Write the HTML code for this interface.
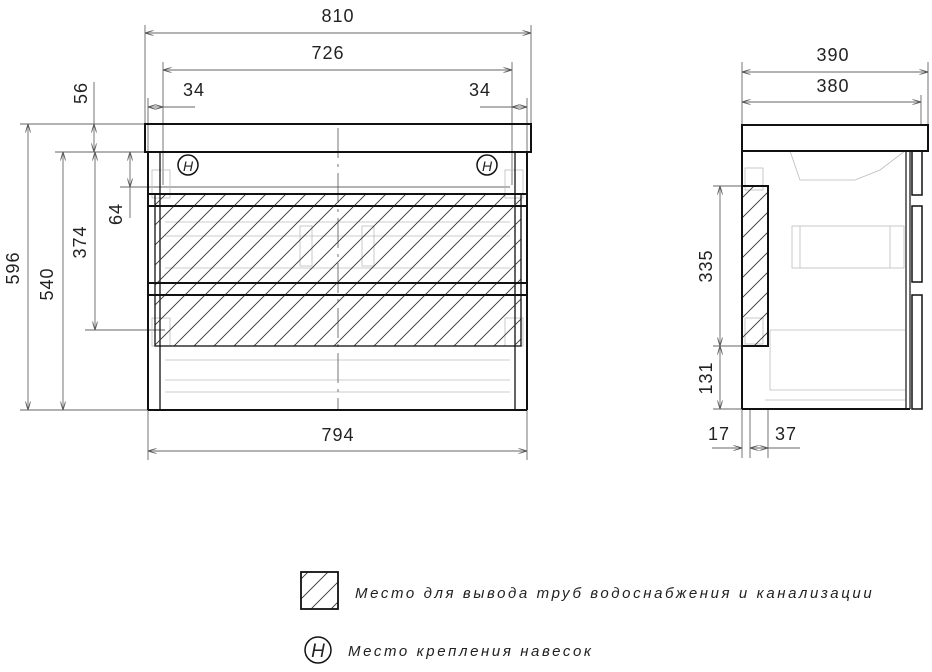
<!DOCTYPE html>
<html><head><meta charset="utf-8"><style>
html,body{margin:0;padding:0;background:#fff;}
svg{display:block;}
text{font-family:"Liberation Sans",sans-serif;fill:#222;}
.d{font-size:18px;letter-spacing:1px;}
.l{font-size:15px;font-style:italic;letter-spacing:2.6px;}
</style></head><body>
<svg width="932" height="672" viewBox="0 0 932 672" xmlns="http://www.w3.org/2000/svg">
<defs>
<pattern id="h" patternUnits="userSpaceOnUse" width="20" height="20">
<path d="M-5 25 L25 -5 M-15 15 L15 -15 M5 35 L35 5" stroke="#333" stroke-width="0.9"/>
</pattern>
<marker id="a" viewBox="0 0 10 6" refX="10" refY="3" markerWidth="10" markerHeight="6" orient="auto-start-reverse"><path d="M0 0 L10 3 L0 6" fill="none" stroke="#555" stroke-width="1"/></marker>
</defs>
<g stroke="#666" stroke-width="0.9" fill="none">
<!-- extension lines front -->
<line x1="145" y1="25" x2="145" y2="124"/><line x1="531" y1="25" x2="531" y2="124"/>
<line x1="163" y1="62" x2="163" y2="185"/><line x1="512" y1="62" x2="512" y2="185"/>
<line x1="148" y1="98" x2="148" y2="152"/><line x1="527" y1="98" x2="527" y2="152"/>
<line x1="148" y1="410" x2="148" y2="460"/><line x1="527" y1="410" x2="527" y2="460"/>
<line x1="20" y1="124" x2="145" y2="124"/><line x1="55" y1="152" x2="148" y2="152"/>
<line x1="20" y1="410" x2="148" y2="410"/><line x1="85" y1="330" x2="165" y2="330"/>
<line x1="120" y1="187" x2="510" y2="187"/>
<!-- dims -->
<line x1="145" y1="33" x2="531" y2="33" marker-start="url(#a)" marker-end="url(#a)"/>
<line x1="163" y1="70" x2="512" y2="70" marker-start="url(#a)" marker-end="url(#a)"/>
<line x1="148" y1="107" x2="163" y2="107" marker-start="url(#a)" marker-end="url(#a)"/>
<line x1="163" y1="107" x2="195" y2="107"/>
<line x1="512" y1="107" x2="527" y2="107" marker-start="url(#a)" marker-end="url(#a)"/>
<line x1="480" y1="107" x2="512" y2="107"/>
<line x1="94" y1="82" x2="94" y2="124"/>
<line x1="94" y1="124" x2="94" y2="152" marker-start="url(#a)" marker-end="url(#a)"/>
<line x1="28" y1="124" x2="28" y2="410" marker-start="url(#a)" marker-end="url(#a)"/>
<line x1="63" y1="152" x2="63" y2="410" marker-start="url(#a)" marker-end="url(#a)"/>
<line x1="95" y1="152" x2="95" y2="330" marker-start="url(#a)" marker-end="url(#a)"/>
<line x1="130" y1="152" x2="130" y2="187" marker-start="url(#a)" marker-end="url(#a)"/>
<line x1="130" y1="187" x2="130" y2="218"/>
<line x1="148" y1="451" x2="527" y2="451" marker-start="url(#a)" marker-end="url(#a)"/>
<!-- faint internals -->
<g stroke="#bbb" stroke-width="0.8">
<line x1="165" y1="360" x2="510" y2="360"/><line x1="165" y1="380" x2="510" y2="380"/><line x1="165" y1="392" x2="510" y2="392"/>
<line x1="165" y1="222" x2="510" y2="222"/><line x1="165" y1="236" x2="510" y2="236"/><line x1="165" y1="268" x2="510" y2="268"/>
<rect x="300" y="226" width="12" height="40"/><rect x="362" y="226" width="12" height="40"/>
<rect x="152" y="170" width="18" height="28"/><rect x="505" y="170" width="18" height="28"/>
<rect x="152" y="318" width="18" height="28"/><rect x="505" y="318" width="18" height="28"/>
</g>
<line x1="338" y1="128" x2="338" y2="410" stroke-dasharray="30 6 3 6"/>
</g>
<!-- front view body -->
<g stroke="#111" fill="none">
<rect x="145" y="124" width="386" height="28" stroke-width="2"/>
<line x1="148" y1="152" x2="148" y2="410" stroke-width="2"/>
<line x1="527" y1="152" x2="527" y2="410" stroke-width="2"/>
<line x1="148" y1="410" x2="527" y2="410" stroke-width="2"/>
<line x1="160" y1="152" x2="160" y2="410" stroke-width="1.3"/>
<line x1="515" y1="152" x2="515" y2="410" stroke-width="1.3"/>
<rect x="155" y="194" width="366" height="152" fill="url(#h)" stroke-width="1.3"/>
<line x1="148" y1="194" x2="527" y2="194" stroke-width="2"/>
<line x1="148" y1="206" x2="527" y2="206" stroke-width="2"/>
<line x1="148" y1="283" x2="527" y2="283" stroke-width="2"/>
<line x1="148" y1="295" x2="527" y2="295" stroke-width="2"/>
<circle cx="188" cy="165" r="10" stroke-width="1.5"/>
<circle cx="487" cy="165" r="10" stroke-width="1.5"/>
</g>
<text x="188" y="171" font-size="14" font-style="italic" text-anchor="middle">H</text>
<text x="487" y="171" font-size="14" font-style="italic" text-anchor="middle">H</text>
<!-- front labels -->
<text class="d" x="338" y="22" text-anchor="middle">810</text>
<text class="d" x="328" y="59" text-anchor="middle">726</text>
<text class="d" x="194" y="96" text-anchor="middle">34</text>
<text class="d" x="480" y="96" text-anchor="middle">34</text>
<text class="d" x="338" y="441" text-anchor="middle">794</text>
<text class="d" transform="translate(87,93) rotate(-90)" text-anchor="middle">56</text>
<text class="d" transform="translate(19,268) rotate(-90)" text-anchor="middle">596</text>
<text class="d" transform="translate(53,284) rotate(-90)" text-anchor="middle">540</text>
<text class="d" transform="translate(86,242) rotate(-90)" text-anchor="middle">374</text>
<text class="d" transform="translate(122,214) rotate(-90)" text-anchor="middle">64</text>
<!-- side view -->
<g stroke="#666" stroke-width="0.9" fill="none">
<line x1="742" y1="62" x2="742" y2="125"/><line x1="928" y1="62" x2="928" y2="125"/><line x1="921" y1="95" x2="921" y2="125"/>
<line x1="742" y1="72" x2="928" y2="72" marker-start="url(#a)" marker-end="url(#a)"/>
<line x1="742" y1="102" x2="921" y2="102" marker-start="url(#a)" marker-end="url(#a)"/>
<line x1="713" y1="186" x2="742" y2="186"/><line x1="713" y1="346" x2="742" y2="346"/><line x1="713" y1="409" x2="742" y2="409"/>
<line x1="720" y1="186" x2="720" y2="346" marker-start="url(#a)" marker-end="url(#a)"/>
<line x1="720" y1="346" x2="720" y2="409" marker-start="url(#a)" marker-end="url(#a)"/>
<line x1="742" y1="409" x2="742" y2="458"/><line x1="750" y1="409" x2="750" y2="458"/><line x1="768" y1="409" x2="768" y2="458"/>
<line x1="712" y1="448" x2="742" y2="448" marker-end="url(#a)"/>
<line x1="750" y1="448" x2="768" y2="448" marker-start="url(#a)" marker-end="url(#a)"/>
<line x1="768" y1="448" x2="800" y2="448"/>
<g stroke="#bbb" stroke-width="0.8">
<path d="M790 151 L800 180 L855 180 L880 170 L905 151"/>
<rect x="792" y="226" width="112" height="42"/><line x1="800" y1="226" x2="800" y2="268"/><line x1="890" y1="226" x2="890" y2="268"/>
<path d="M770 330 L905 330 M770 330 L770 390 L905 390 M765 400 L905 400"/>
<rect x="745" y="168" width="18" height="22"/><rect x="745" y="318" width="18" height="26"/>
</g>
</g>
<g stroke="#111" fill="none">
<rect x="742" y="125" width="186" height="26" stroke-width="2"/>
<line x1="742" y1="151" x2="742" y2="409" stroke-width="2"/>
<line x1="742" y1="409" x2="910" y2="409" stroke-width="2"/>
<line x1="906" y1="151" x2="906" y2="409" stroke-width="1.2"/>
<line x1="910" y1="151" x2="910" y2="409" stroke-width="1.2"/>
<rect x="912" y="151" width="10" height="44" stroke-width="1.5"/>
<rect x="912" y="206" width="10" height="76" stroke-width="1.5"/>
<rect x="912" y="295" width="10" height="114" stroke-width="1.5"/>
<rect x="742" y="186" width="26" height="160" fill="url(#h)" stroke-width="2"/>
</g>
<text class="d" x="833" y="61" text-anchor="middle">390</text>
<text class="d" x="833" y="92" text-anchor="middle">380</text>
<text class="d" transform="translate(712,266) rotate(-90)" text-anchor="middle">335</text>
<text class="d" transform="translate(712,378) rotate(-90)" text-anchor="middle">131</text>
<text class="d" x="719" y="440" text-anchor="middle">17</text>
<text class="d" x="786" y="440" text-anchor="middle">37</text>
<!-- legend -->
<rect x="301" y="572" width="37" height="37" fill="url(#h)" stroke="#111" stroke-width="1.8"/>
<text class="l" x="355" y="598">Место для вывода труб водоснабжения и канализации</text>
<circle cx="318" cy="650" r="13" fill="none" stroke="#111" stroke-width="1.5"/>
<text x="318" y="657" font-size="19" font-style="italic" text-anchor="middle">H</text>
<text class="l" x="348" y="656">Место крепления навесок</text>
</svg>
</body></html>
